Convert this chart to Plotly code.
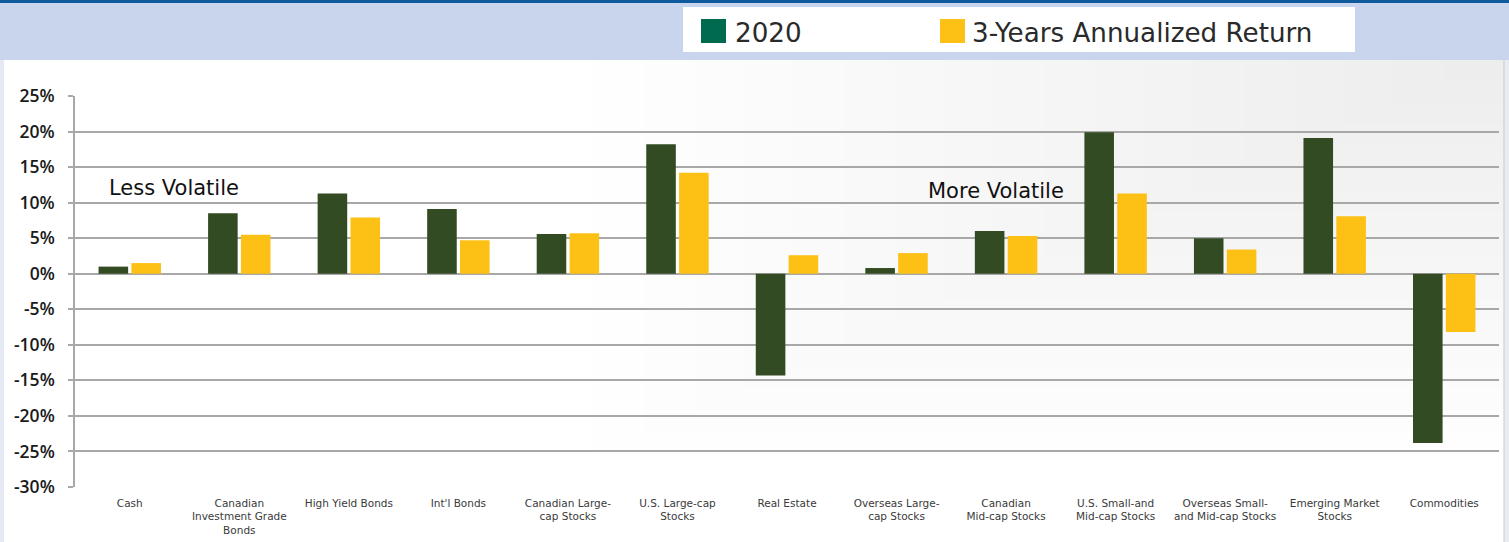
import plotly.graph_objects as go

categories = [
    "Cash",
    "Canadian<br>Investment Grade<br>Bonds",
    "High Yield Bonds",
    "Int'l Bonds",
    "Canadian Large-<br>cap Stocks",
    "U.S. Large-cap<br>Stocks",
    "Real Estate",
    "Overseas Large-<br>cap Stocks",
    "Canadian<br>Mid-cap Stocks",
    "U.S. Small-and<br>Mid-cap Stocks",
    "Overseas Small-<br>and Mid-cap Stocks",
    "Emerging Market<br>Stocks",
    "Commodities",
]
returns_2020 = [1.0, 8.5, 11.3, 9.1, 5.6, 18.2, -14.3, 0.8, 6.0, 19.9, 5.0, 19.1, -23.8]
returns_3yr = [1.5, 5.5, 7.9, 4.7, 5.7, 14.2, 2.6, 2.9, 5.3, 11.3, 3.4, 8.1, -8.2]
tick_vals = [25, 20, 15, 10, 5, 0, -5, -10, -15, -20, -25, -30]
tick_text = [f"{v}%" for v in tick_vals]

W, H = 1509, 542
L, R, T, B = 75, 10, 96, 55
PW = W - L - R
PH = H - T - B

def px(x):
    return (x - L) / PW

def py(y):
    return (H - B - y) / PH

x_idx = list(range(len(categories)))

fig = go.Figure()
fig.add_trace(go.Bar(x=x_idx, y=returns_2020, name="2020",
                     marker=dict(color="#334b22", line=dict(width=0))))
fig.add_trace(go.Bar(x=x_idx, y=returns_3yr, name="3-Years Annualized Return",
                     marker=dict(color="#fdc014", line=dict(width=0))))

shapes = []
# subtle background gradient toward upper right
for i in range(18):
    shapes.append(dict(type="rect", xref="paper", yref="paper",
                       x0=px(1504 - 60 - i * 50), x1=px(1504), y0=py(60 + 20 + i * 22), y1=py(60),
                       fillcolor="#e2e2e2", opacity=0.05, line=dict(width=0), layer="below"))
# header band
shapes.append(dict(type="rect", xref="paper", yref="paper", x0=px(0), x1=px(W), y0=py(60), y1=py(0),
                   fillcolor="#c8d5ec", line=dict(width=0), layer="below"))
shapes.append(dict(type="rect", xref="paper", yref="paper", x0=px(0), x1=px(W), y0=py(3), y1=py(0),
                   fillcolor="#0f5a9c", line=dict(width=0), layer="below"))
# left / right borders
shapes.append(dict(type="rect", xref="paper", yref="paper", x0=px(0), x1=px(4), y0=py(H), y1=py(60),
                   fillcolor="#e4e9f4", line=dict(width=0), layer="below"))
shapes.append(dict(type="rect", xref="paper", yref="paper", x0=px(1504), x1=px(W), y0=py(H), y1=py(60),
                   fillcolor="#e9ecf2", line=dict(width=0), layer="below"))
shapes.append(dict(type="line", xref="paper", yref="paper", x0=px(1504), x1=px(1504), y0=py(H), y1=py(60),
                   line=dict(color="#c9c9c9", width=1), layer="below"))
# legend box
shapes.append(dict(type="rect", xref="paper", yref="paper", x0=px(683), x1=px(1355), y0=py(52), y1=py(7),
                   fillcolor="#ffffff", line=dict(width=0), layer="below"))
shapes.append(dict(type="rect", xref="paper", yref="paper", x0=px(701), x1=px(726), y0=py(43), y1=py(19),
                   fillcolor="#006a4e", line=dict(width=0)))
shapes.append(dict(type="rect", xref="paper", yref="paper", x0=px(940), x1=px(965), y0=py(43), y1=py(19),
                   fillcolor="#fdc014", line=dict(width=0)))

legend_font = dict(family="DejaVu Sans", size=26.2, color="#2a2a2a")
note_font = dict(family="DejaVu Sans", size=21, color="#111111")
annotations = [
    dict(text="2020", xref="paper", yref="paper", x=px(733), y=py(33.5), xanchor="left", yanchor="middle",
         showarrow=False, font=legend_font),
    dict(text="3-Years Annualized Return", xref="paper", yref="paper", x=px(970), y=py(33.5), xanchor="left",
         yanchor="middle", showarrow=False, font=legend_font),
    dict(text="Less Volatile", x=0.40, y=12.0, xref="x", yref="y", showarrow=False, font=note_font),
    dict(text="More Volatile", x=7.91, y=11.6, xref="x", yref="y", showarrow=False, font=note_font),
]

fig.update_layout(
    width=W, height=H,
    margin=dict(l=L, r=R, t=T, b=B),
    paper_bgcolor="#ffffff", plot_bgcolor="rgba(0,0,0,0)",
    barmode="group", bargap=0.40, bargroupgap=0.1,
    showlegend=False,
    shapes=shapes, annotations=annotations,
    font=dict(family="DejaVu Sans", color="#222222"),
)
fig.update_xaxes(
    tickmode="array", tickvals=x_idx, ticktext=categories,
    range=[-0.5, len(categories) - 0.5],
    showgrid=False, zeroline=False, showline=False, ticks="",
    tickfont=dict(family="DejaVu Sans", size=10.5, color="#3a3a3a"),
    tickangle=0, ticklabelstandoff=8, automargin=False,
)
fig.update_yaxes(
    range=[-30, 25], tickmode="array", tickvals=tick_vals, ticktext=tick_text,
    showgrid=True, gridcolor="#a8a8a8", gridwidth=1.5,
    zeroline=True, zerolinecolor="#a8a8a8", zerolinewidth=1.5,
    showline=True, linecolor="#a8a8a8", linewidth=1.5,
    ticks="outside", ticklen=5, tickcolor="#a8a8a8", tickwidth=1.5,
    ticklabelstandoff=10, automargin=False,
    tickfont=dict(family="Open Sans", size=17.5, color="#1a1a1a", weight=600),
)

fig.write_html("out.html", config={"displayModeBar": False},
               post_script="document.body.style.margin='0px';document.body.style.overflow='hidden';")
